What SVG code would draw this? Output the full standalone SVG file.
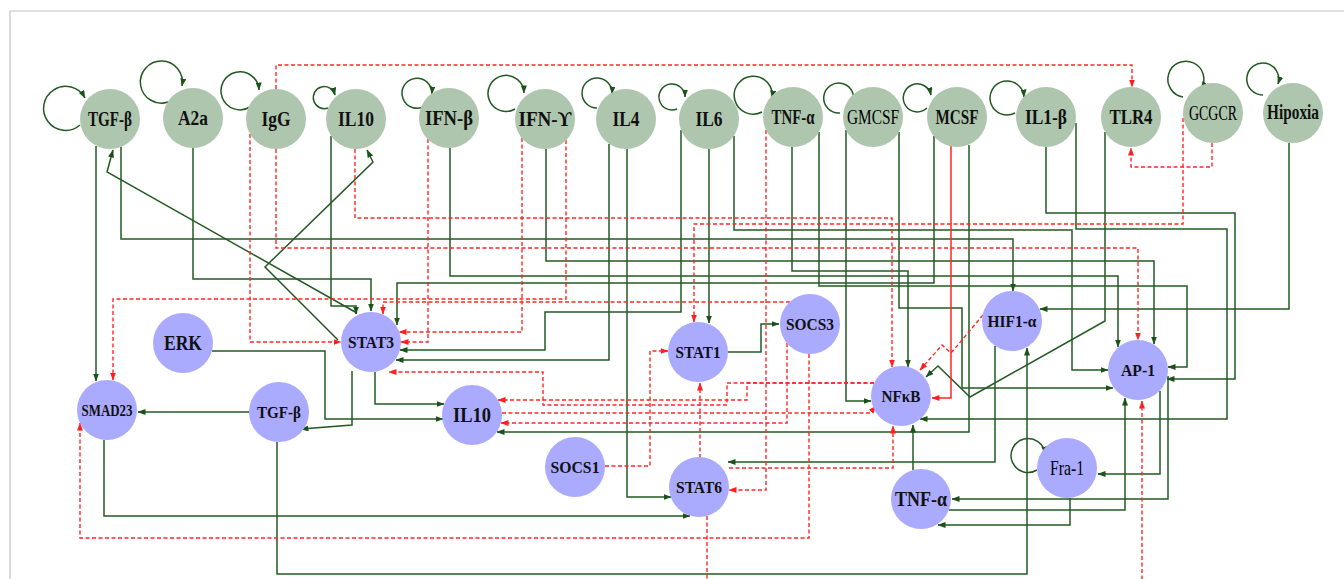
<svg xmlns="http://www.w3.org/2000/svg" width="1344" height="579" viewBox="0 0 1344 579">
<defs>
<style>
.g{fill:none;stroke:#225a22;stroke-width:1.5}
.r{fill:none;stroke:#ff2626;stroke-width:1.4;stroke-dasharray:4 2.5}
.rs{fill:none;stroke:#ff2626;stroke-width:1.5}
.ga{marker-end:url(#ag)}
.ra{marker-end:url(#ar)}
.top circle{fill:#aec6ae}
.bot circle{fill:#aaaaff}
text{font-family:"Liberation Serif","Times New Roman",serif;font-weight:bold;fill:#111;text-anchor:middle}
.t1{font-size:20px}
.t2{font-size:17.5px}
.t3{font-size:21px}
.nb{font-weight:normal;fill:#000}
</style>
<marker id="ag" viewBox="0 0 8 6" refX="7.5" refY="3" markerWidth="8" markerHeight="6" markerUnits="userSpaceOnUse" orient="auto"><path d="M0,0 L8,3 L0,6 z" fill="#1a521a"/></marker>
<marker id="ar" viewBox="0 0 8 6" refX="7.5" refY="3" markerWidth="8" markerHeight="6" markerUnits="userSpaceOnUse" orient="auto"><path d="M0,0 L8,3 L0,6 z" fill="#ff1f1f"/></marker>
</defs>
<rect x="0" y="0" width="1344" height="579" fill="#ffffff"/>
<path d="M10,579 V11 H1344" fill="none" stroke="#c4c4c4" stroke-width="1.2"/>

<g id="connectors">
<!-- self loops -->
<path class="g ga" d="M80,125 A22 22 0 1 1 85,98"/>
<path class="g ga" d="M168,102 A21 21 0 1 1 182,86"/>
<path class="g ga" d="M250,107 A19 19 0 1 1 259,90"/>
<path class="g ga" d="M328,108 A11 11 0 1 1 335,95"/>
<path class="g ga" d="M425,106 A15 15 0 1 1 432,94"/>
<path class="g ga" d="M515,109 A18 18 0 1 1 524,93"/>
<path class="g ga" d="M597,108 A15 15 0 1 1 612,94"/>
<path class="g ga" d="M677,109 A13 13 0 1 1 685,97"/>
<path class="g ga" d="M762,112 A19 19 0 1 1 772,98"/>
<path class="g ga" d="M840,113 A15 15 0 1 1 852,105"/>
<path class="g ga" d="M927,108 A14 14 0 1 1 931,95"/>
<path class="g ga" d="M1015,113 A17 17 0 1 1 1024,97"/>
<path class="g ga" d="M1183,97 A18 18 0 1 1 1201,89"/>
<path class="g ga" d="M1263,95 A16 16 0 1 1 1278,84"/>
<path class="g ga" d="M1037,470 A17 17 0 1 1 1045,454"/>

<!-- green activations -->
<path class="g ga" d="M96,146 V381"/>
<path class="g ga" d="M121,147 V239 H1013 V291"/>
<path class="g ga" d="M357,313 L107,172 L113,150"/>
<path class="g ga" d="M331,136 V306 H356 V314"/>
<path class="g ga" d="M338,340 L265,267 L373,162 L367,150"/>
<path class="g ga" d="M193,148 V279 H371 V311"/>
<path class="g ga" d="M450,148 V276 H1118 V347"/>
<path class="g ga" d="M546,149 V261 H1154 V344"/>
<path class="g ga" d="M609,144 V360 H396"/>
<path class="g ga" d="M627,149 V497 H671"/>
<path class="g ga" d="M681,130 V312 H545 V350 H400"/>
<path class="g ga" d="M709,149 V323"/>
<path class="g ga" d="M734,136 V230 H1072 V370 H1108"/>
<path class="g ga" d="M792,147 V271 H908 V367"/>
<path class="g ga" d="M819,132 V286 H1187 V367 H1168"/>
<path class="g ga" d="M846,130 V401 H871"/>
<path class="g ga" d="M899,132 V308 H962 V388 H1113"/>
<path class="g ga" d="M934,136 V283 H397 V325"/>
<path class="g ga" d="M969,145 V432 H497"/>
<path class="g ga" d="M1046,147 V213 H1235 V379 H1167"/>
<path class="g ga" d="M1076,123 V229 H1227 V419 H920"/>
<path class="g ga" d="M1105,132 V321 L970,397 L938,366 L926,377"/>
<path class="g ga" d="M1289,143 V309 H1040"/>
<path class="g ga" d="M212,351 H325 V419 H443"/>
<path class="g ga" d="M375,372 V404 H444"/>
<path class="g ga" d="M352,371 V425 L301,429"/>
<path class="g ga" d="M249,412 H138"/>
<path class="g ga" d="M277,442 V574 H1027 V348"/>
<path class="g ga" d="M104,440 V516 H690"/>
<path class="g ga" d="M728,352 H761 V324 H779"/>
<path class="g ga" d="M995,346 V462 H728"/>
<path class="g ga" d="M913,470 V425"/>
<path class="g ga" d="M1168,376 V499 H952"/>
<path class="g ga" d="M1160,391 V474 H1098"/>
<path class="g ga" d="M949,510 H1125 V398"/>
<path class="g ga" d="M1070,498 V525 H938"/>

<!-- red inhibitions -->
<path class="r ra" d="M250,134 V342 H341"/>
<path class="r ra" d="M276,149 V248 H1138 V340"/>
<path class="r ra" d="M276,89 V65 H1132 V87"/>
<path class="r ra" d="M355,149 V218 H892 V367"/>
<path class="r ra" d="M428,139 V342 H401"/>
<path class="r ra" d="M522,138 V332 H399"/>
<path class="r ra" d="M566,140 V299 H113 V380"/>
<path class="r ra" d="M790,302 H383 V314"/>
<path class="r ra" d="M766,130 V490 H729"/>
<path class="r ra" d="M1183,118 V224 H694 V322"/>
<path class="r ra" d="M1212,143 V167 H1131 V148"/>
<path class="r ra" d="M605,466 H650 V351 H668"/>
<path class="r ra" d="M700,458 V383"/>
<path class="r ra" d="M787,343 V423 H501"/>
<path class="r ra" d="M809,354 V538 H80 V423"/>
<path class="r ra" d="M874,383 H727 V405 H543 V372 H389"/>
<path class="r ra" d="M874,383 H747 V400 H498"/>
<path class="r ra" d="M502,413 H870 L876,406"/>
<path class="r ra" d="M729,468 H893 V426"/>
<path class="r ra" d="M707,516 V600 H1142 V401"/>
<path class="r ra" d="M983,315 L951,353 L942,345 L920,370"/>
<path class="rs ra" d="M951,146 V398 H932"/>
</g>

<g id="n-tgfb" class="top"><circle cx="110" cy="119" r="30"/><text class="t1" x="110" y="126" textLength="44" lengthAdjust="spacingAndGlyphs">TGF-β</text></g>
<g id="n-a2a" class="top"><circle cx="193" cy="118" r="30"/><text class="t1" x="193" y="125" textLength="30" lengthAdjust="spacingAndGlyphs">A2a</text></g>
<g id="n-igg" class="top"><circle cx="276" cy="119" r="30"/><text class="t1" x="276" y="126" textLength="29" lengthAdjust="spacingAndGlyphs">IgG</text></g>
<g id="n-il10-top" class="top"><circle cx="356" cy="119" r="30"/><text class="t1" x="356" y="126" textLength="36" lengthAdjust="spacingAndGlyphs">IL10</text></g>
<g id="n-ifnb" class="top"><circle cx="449" cy="118" r="30"/><text class="t1" x="449" y="125" textLength="48" lengthAdjust="spacingAndGlyphs">IFN-β</text></g>
<g id="n-ifng" class="top"><circle cx="545" cy="119" r="30"/><text class="t1" x="545" y="126" textLength="53" lengthAdjust="spacingAndGlyphs">IFN-ϒ</text></g>
<g id="n-il4" class="top"><circle cx="626" cy="119" r="30"/><text class="t1" x="626" y="126" textLength="27" lengthAdjust="spacingAndGlyphs">IL4</text></g>
<g id="n-il6" class="top"><circle cx="709" cy="119" r="30"/><text class="t1" x="709" y="126" textLength="27" lengthAdjust="spacingAndGlyphs">IL6</text></g>
<g id="n-tnfa-top" class="top"><circle cx="793" cy="117" r="30"/><text class="t1" x="793" y="124" textLength="43" lengthAdjust="spacingAndGlyphs">TNF-α</text></g>
<g id="n-gmcsf" class="top"><circle cx="873" cy="117" r="30"/><text class="t1 nb" x="873" y="124" textLength="52" lengthAdjust="spacingAndGlyphs">GMCSF</text></g>
<g id="n-mcsf" class="top"><circle cx="957" cy="117" r="30"/><text class="t1" x="957" y="124" textLength="43" lengthAdjust="spacingAndGlyphs">MCSF</text></g>
<g id="n-il1b" class="top"><circle cx="1046" cy="117" r="30"/><text class="t1" x="1046" y="124" textLength="42" lengthAdjust="spacingAndGlyphs">IL1-β</text></g>
<g id="n-tlr4" class="top"><circle cx="1131" cy="117" r="30"/><text class="t1" x="1131" y="124" textLength="43" lengthAdjust="spacingAndGlyphs">TLR4</text></g>
<g id="n-gcgcr" class="top"><circle cx="1213" cy="113" r="30"/><text class="t1 nb" x="1213" y="120" textLength="48" lengthAdjust="spacingAndGlyphs">GCGCR</text></g>
<g id="n-hipoxia" class="top"><circle cx="1293" cy="113" r="30"/><text class="t1" x="1293" y="119" textLength="52" lengthAdjust="spacingAndGlyphs">Hipoxia</text></g>

<g id="n-erk" class="bot"><circle cx="183" cy="343" r="30"/><text class="t3" x="183" y="350" textLength="38" lengthAdjust="spacingAndGlyphs">ERK</text></g>
<g id="n-stat3" class="bot"><circle cx="371" cy="342" r="30"/><text class="t2" x="371" y="348" textLength="46" lengthAdjust="spacingAndGlyphs">STAT3</text></g>
<g id="n-smad23" class="bot"><circle cx="107" cy="410" r="30"/><text class="t2" x="107" y="416" textLength="51" lengthAdjust="spacingAndGlyphs">SMAD23</text></g>
<g id="n-tgfb-bot" class="bot"><circle cx="279" cy="412" r="30"/><text class="t2" x="279" y="418" textLength="44" lengthAdjust="spacingAndGlyphs">TGF-β</text></g>
<g id="n-il10" class="bot"><circle cx="472" cy="415" r="30"/><text class="t3" x="472" y="422" textLength="38" lengthAdjust="spacingAndGlyphs">IL10</text></g>
<g id="n-socs1" class="bot"><circle cx="575" cy="467" r="30"/><text class="t2" x="575" y="473" textLength="49" lengthAdjust="spacingAndGlyphs">SOCS1</text></g>
<g id="n-stat6" class="bot"><circle cx="699" cy="487" r="30"/><text class="t2" x="699" y="493" textLength="46" lengthAdjust="spacingAndGlyphs">STAT6</text></g>
<g id="n-stat1" class="bot"><circle cx="698" cy="352" r="30"/><text class="t2" x="698" y="358" textLength="45" lengthAdjust="spacingAndGlyphs">STAT1</text></g>
<g id="n-socs3" class="bot"><circle cx="810" cy="324" r="30"/><text class="t2" x="810" y="330" textLength="48" lengthAdjust="spacingAndGlyphs">SOCS3</text></g>
<g id="n-hif1a" class="bot"><circle cx="1012" cy="321" r="30"/><text class="t2" x="1012" y="327" textLength="49" lengthAdjust="spacingAndGlyphs">HIF1-α</text></g>
<g id="n-ap1" class="bot"><circle cx="1138" cy="370" r="30"/><text class="t2" x="1138" y="376" textLength="34" lengthAdjust="spacingAndGlyphs">AP-1</text></g>
<g id="n-nfkb" class="bot"><circle cx="901" cy="396" r="30"/><text class="t2" x="901" y="402" textLength="39" lengthAdjust="spacingAndGlyphs">NFκB</text></g>
<g id="n-tnfa" class="bot"><circle cx="921" cy="499" r="30"/><text class="t1" x="921" y="506" textLength="52" lengthAdjust="spacingAndGlyphs">TNF-α</text></g>
<g id="n-fra1" class="bot"><circle cx="1067" cy="468" r="30"/><text class="t3 nb" x="1067" y="475" textLength="34" lengthAdjust="spacingAndGlyphs">Fra-1</text></g>
</svg>
